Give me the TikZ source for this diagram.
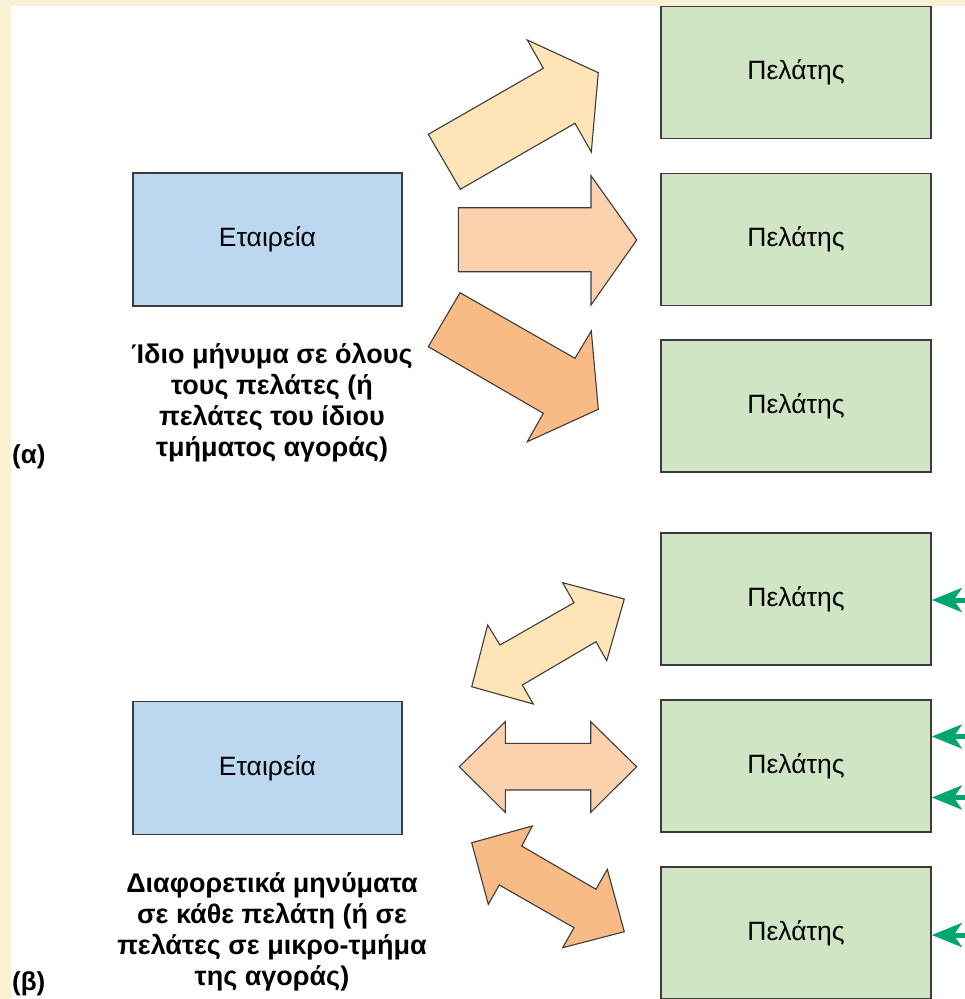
\documentclass[tikz,border=0pt]{standalone}
\usepackage{fontspec}
\setmainfont{Liberation Sans}
\usetikzlibrary{arrows.meta}

\definecolor{framecream}{HTML}{FAF0D4}
\definecolor{clientgreen}{HTML}{CFE5C4}
\definecolor{firmblue}{HTML}{BCD8F0}
\definecolor{arrowlight}{HTML}{FEE4B6}
\definecolor{arrowmid}{HTML}{FBD1AE}
\definecolor{arrowdark}{HTML}{F9BB85}
\definecolor{edgegray}{HTML}{3C3C3C}
\definecolor{feedgreen}{HTML}{00A66E}

\begin{document}
\begin{tikzpicture}[x=1pt,y=-1pt,
  client/.style={draw=edgegray,line width=1.6pt,fill=clientgreen,minimum width=270pt,
    minimum height=132pt,inner sep=0pt,font=\fontsize{26.5}{30}\selectfont},
  firm/.style={draw=edgegray,line width=1.6pt,fill=firmblue,minimum width=269pt,
    minimum height=133pt,inner sep=0pt,font=\fontsize{26.5}{30}\selectfont},
  bigarrow/.style={draw=edgegray,line width=1.1pt,line join=miter},
  caption/.style={align=center,font=\bfseries\fontsize{27}{31}\selectfont,inner sep=0pt},
  partlabel/.style={anchor=west,font=\bfseries\fontsize{26}{30}\selectfont,inner sep=0pt},
  feedback/.style={draw=feedgreen,line width=5pt,
    -{Stealth[length=30pt,width=24pt,inset=8pt,fill=feedgreen]}}]

% frame and white panel
\fill[framecream] (0,0) rectangle (965,999);
\fill[white] (11,6) rectangle (965,999);
\useasboundingbox (0,0) rectangle (965,999);

% ---------- part (a) ----------
\node[firm] (firmA) at (267.5,239.5) {Εταιρεία};
\node[client] (cA1) at (796,72.5) {Πελάτης};
\node[client] (cA2) at (796,239.5) {Πελάτης};
\node[client] (cA3) at (796,406) {Πελάτης};

\filldraw[bigarrow,fill=arrowlight] (428.3,134.3) -- (543.3,68.3) -- (527.3,40) -- (598.3,72.7)
  -- (591.3,152) -- (575,123.3) -- (460.3,189.3) -- cycle;
\filldraw[bigarrow,fill=arrowmid] (458.3,207.7) -- (591,207.7) -- (591,175.7) -- (636.7,240)
  -- (591,305) -- (591,271.7) -- (458.3,271.7) -- cycle;
\filldraw[bigarrow,fill=arrowdark] (428.3,346.7) -- (460,292.7) -- (575,358.3) -- (591.3,331)
  -- (598.3,409.3) -- (527.3,441.7) -- (543.3,413.3) -- cycle;

\node[caption] (capA) at (272,403) {Ίδιο μήνυμα σε όλους\\τους πελάτες (ή\\πελάτες του ίδιου\\τμήματος αγοράς)};
\node[partlabel] (labA) at (12,457) {(α)};

% ---------- part (b) ----------
\node[firm] (firmB) at (267.5,768) {Εταιρεία};
\node[client] (cB1) at (796,599) {Πελάτης};
\node[client] (cB2) at (796,766) {Πελάτης};
\node[client] (cB3) at (796,933) {Πελάτης};

\filldraw[bigarrow,fill=arrowlight] (471.7,686.7) -- (487.7,625) -- (500,645) -- (574,602.7)
  -- (562.7,582.7) -- (624.3,599) -- (606.7,660.7) -- (596,641.7) -- (522.3,685)
  -- (533.3,704) -- cycle;
\filldraw[bigarrow,fill=arrowmid] (459.3,766.7) -- (505.3,721.7) -- (505.3,743.3) -- (590.7,743.3)
  -- (590.7,721.7) -- (636.7,766.7) -- (590.7,812.3) -- (590.7,790) -- (505.3,790)
  -- (505.3,812.3) -- cycle;
\filldraw[bigarrow,fill=arrowdark] (471.7,842.7) -- (532.3,826) -- (521.7,846) -- (596,889.3)
  -- (607.3,869.3) -- (624.3,931.7) -- (562.7,947.7) -- (574,927.7) -- (499.3,885)
  -- (488.3,904.3) -- cycle;

\node[caption] (capB) at (272,932) {Διαφορετικά μηνύματα\\σε κάθε πελάτη (ή σε\\πελάτες σε μικρο-τμήμα\\της αγοράς)};
\node[partlabel] (labB) at (12,984) {(β)};

% incoming responses on the right
\coordinate (in1) at (968,600);
\coordinate (in2) at (968,736.5);
\coordinate (in3) at (968,797.5);
\coordinate (in4) at (968,935);
\draw[feedback] (in1) -- (in1 -| cB1.east);
\draw[feedback] (in2) -- (in2 -| cB2.east);
\draw[feedback] (in3) -- (in3 -| cB2.east);
\draw[feedback] (in4) -- (in4 -| cB3.east);
\end{tikzpicture}
\end{document}
